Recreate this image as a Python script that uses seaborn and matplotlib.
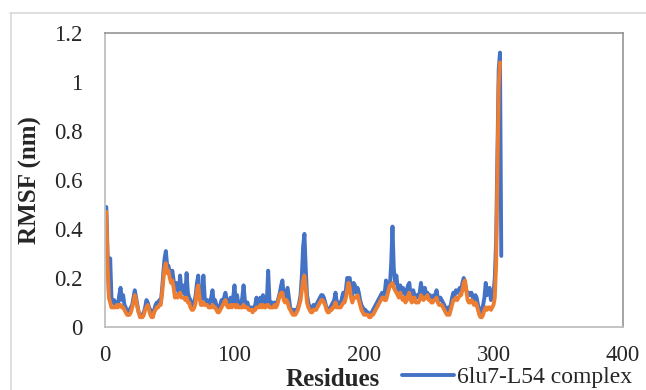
import numpy as np
import pandas as pd
import matplotlib.pyplot as plt
import seaborn as sns
from matplotlib.lines import Line2D

# RMSF per residue (nm)
complex_rmsf = [
    .49, .30, .14, .28, .12, .10, .11, .09, .10, .09,
    .13, .16, .11, .13, .09, .08, .06, .05, .07, .08,
    .09, .12, .15, .12, .09, .06, .05, .05, .05, .06,
    .08, .11, .10, .08, .07, .05, .05, .07, .09, .10,
    .09, .11, .10, .15, .22, .28, .31, .25, .25, .22,
    .21, .23, .19, .15, .18, .16, .14, .21, .15, .14,
    .17, .13, .22, .14, .12, .11, .09, .08, .10, .13,
    .18, .21, .13, .11, .12, .21, .12, .10, .11, .09,
    .10, .12, .15, .10, .11, .09, .08, .07, .09, .11,
    .10, .12, .14, .11, .09, .10, .12, .09, .12, .17,
    .10, .13, .09, .10, .09, .12, .17, .11, .09, .10,
    .08, .07, .08, .07, .08, .09, .12, .09, .10, .12,
    .09, .13, .10, .09, .11, .23, .11, .09, .10, .09,
    .10, .09, .10, .12, .14, .17, .19, .13, .12, .14,
    .16, .12, .08, .07, .06, .07, .06, .07, .08, .10,
    .13, .21, .33, .38, .24, .13, .10, .08, .07, .08,
    .09, .08, .09, .10, .11, .12, .13, .13, .12, .10,
    .08, .07, .07, .08, .09, .10, .11, .14, .10, .09,
    .10, .09, .12, .14, .13, .15, .20, .20, .20, .15,
    .13, .18, .17, .14, .16, .14, .11, .09, .08, .07,
    .07, .06, .06, .05, .05, .06, .07, .08, .09, .10,
    .11, .12, .13, .14, .13, .14, .19, .14, .16, .17,
    .26, .41, .24, .18, .21, .16, .15, .17, .14, .16,
    .15, .13, .15, .17, .18, .13, .12, .15, .13, .12,
    .13, .12, .14, .18, .14, .13, .16, .13, .14, .12,
    .13, .11, .12, .13, .12, .15, .12, .11, .12, .11,
    .10, .09, .07, .07, .08, .06, .09, .12, .14, .13,
    .15, .14, .15, .16, .15, .18, .20, .18, .15, .13,
    .14, .13, .14, .12, .11, .13, .12, .09, .07, .06,
    .07, .09, .12, .18, .13, .15, .16, .11, .12, .14,
    .20, .35, .70, 1.05, 1.12, .29,
]

second_rmsf = [
    .47, .25, .12, .10, .08, .08, .08, .08, .09, .08,
    .09, .09, .08, .08, .07, .06, .05, .05, .05, .06,
    .08, .10, .13, .11, .08, .06, .04, .04, .04, .05,
    .07, .08, .09, .07, .05, .04, .04, .06, .07, .08,
    .08, .09, .09, .13, .19, .24, .26, .22, .23, .20,
    .18, .19, .16, .12, .13, .12, .13, .14, .12, .12,
    .12, .11, .12, .10, .10, .08, .07, .07, .08, .10,
    .15, .17, .12, .09, .09, .10, .09, .09, .09, .08,
    .08, .08, .09, .08, .08, .07, .06, .06, .07, .08,
    .09, .10, .11, .09, .08, .08, .09, .08, .09, .09,
    .08, .09, .08, .08, .08, .08, .09, .08, .08, .08,
    .07, .07, .07, .06, .07, .07, .08, .08, .08, .09,
    .08, .09, .08, .08, .09, .09, .08, .08, .08, .08,
    .09, .08, .09, .11, .13, .14, .14, .11, .10, .11,
    .10, .08, .07, .06, .05, .05, .05, .06, .07, .09,
    .11, .15, .19, .21, .16, .10, .08, .07, .06, .06,
    .07, .07, .07, .08, .09, .10, .11, .11, .10, .09,
    .07, .06, .06, .07, .07, .08, .08, .10, .08, .08,
    .08, .08, .09, .10, .10, .12, .15, .18, .16, .12,
    .10, .12, .12, .12, .13, .11, .09, .07, .06, .05,
    .05, .05, .05, .04, .04, .05, .05, .06, .07, .08,
    .09, .10, .11, .12, .12, .11, .11, .13, .15, .17,
    .17, .18, .16, .15, .14, .13, .12, .14, .12, .11,
    .12, .10, .11, .13, .14, .11, .10, .12, .12, .10,
    .10, .10, .11, .13, .12, .11, .12, .12, .13, .11,
    .11, .10, .10, .11, .11, .12, .10, .09, .09, .09,
    .08, .07, .06, .05, .05, .05, .07, .09, .11, .11,
    .12, .11, .12, .13, .13, .15, .18, .19, .15, .11,
    .10, .10, .11, .10, .09, .10, .09, .07, .05, .04,
    .04, .05, .07, .08, .07, .08, .08, .07, .08, .09,
    .12, .25, .60, .98, 1.08,
]

df_a = pd.DataFrame({'residue': np.arange(1, len(complex_rmsf) + 1), 'rmsf': complex_rmsf})
df_b = pd.DataFrame({'residue': np.arange(1, len(second_rmsf) + 1), 'rmsf': second_rmsf})

sns.set_style("white")
plt.rcParams['font.family'] = ['Liberation Serif', 'DejaVu Serif']

fig = plt.figure(figsize=(6.46, 3.90), dpi=100)
ax = fig.add_axes([105 / 646, 1 - 327 / 390, (623 - 105) / 646, (327 - 33) / 390])

blue = '#4472C4'
orange = '#ED7D31'
sns.lineplot(data=df_a, x='residue', y='rmsf', color=blue, linewidth=2.8, ax=ax)
sns.lineplot(data=df_b, x='residue', y='rmsf', color=orange, linewidth=2.8, ax=ax)

ax.set_xlim(0, 400)
ax.set_ylim(0, 1.2)
ax.set_xticks([0, 100, 200, 300, 400])
ax.set_yticks([0, 0.2, 0.4, 0.6, 0.8, 1.0, 1.2])
ax.set_yticklabels(['0', '0.2', '0.4', '0.6', '0.8', '1', '1.2'])
ax.tick_params(axis='both', length=0, labelsize=16.5)
ax.tick_params(axis='y', pad=16)
ax.tick_params(axis='x', pad=13)

for side in ['left', 'bottom']:
    ax.spines[side].set_color('#BFBFBF')
    ax.spines[side].set_linewidth(1.3)
for side in ['top', 'right']:
    ax.spines[side].set_color('#8C8C8C')
    ax.spines[side].set_linewidth(1.1)

ax.set_xlabel('')
ax.set_ylabel('RMSF (nm)', fontsize=18, fontweight='bold')
ax.yaxis.set_label_coords(-0.121, 0.5)
fig.text(333 / 646, 1 - 380 / 390, 'Residues', fontsize=18, fontweight='bold',
         ha='center', va='center')

# legend sits at the bottom right, only the first entry is visible
handle = Line2D([], [], color=blue, linewidth=2.8)
fig.legend(handles=[handle], labels=['6lu7-L54 complex'], loc='center left',
           bbox_to_anchor=(402 / 646, 1 - 377 / 390), frameon=False,
           fontsize=17, handlelength=2.2, handletextpad=0.12, borderaxespad=0,
           borderpad=0)

# outer chart border
fig.add_artist(Line2D([10 / 646, 1], [1 - 12.5 / 390] * 2, color='#D9D9D9', linewidth=1.2))
fig.add_artist(Line2D([10.5 / 646] * 2, [0, 1 - 12.5 / 390], color='#D9D9D9', linewidth=1.2))

plt.savefig('out.png', dpi=100)
